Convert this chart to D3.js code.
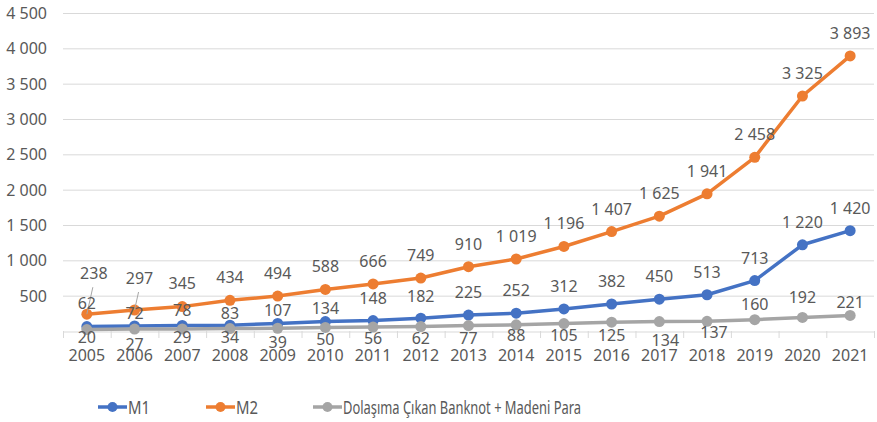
<!DOCTYPE html>
<html lang="tr">
<head>
<meta charset="UTF-8">
<title>M1 M2</title>
<script src="https://d3js.org/d3.v7.min.js"></script>
<style>
body,html{margin:0;padding:0;background:#fff;}
text{font-family:"Noto Sans",sans-serif;fill:#595959;}
</style>
</head>
<body>
<svg width="877" height="422"></svg>
<script>
const years = ["2005","2006","2007","2008","2009","2010","2011","2012","2013","2014","2015","2016","2017","2018","2019","2020","2021"];
const m1 = [62,72,78,83,107,134,148,182,225,252,312,382,450,513,713,1220,1420];
const m2 = [238,297,345,434,494,588,666,749,910,1019,1196,1407,1625,1941,2458,3325,3893];
const dolasim = [20,27,29,34,39,50,56,62,77,88,105,125,134,137,160,192,221];
const yTicks = [500,1000,1500,2000,2500,3000,3500,4000,4500];
const seriesNames = ["M1","M2","Dolaşıma Çıkan Banknot + Madeni Para"];

// label placement (px offsets from the point), like excel's arrangement
const m1LabelDy = [-24,-13,-15,-12,-13,-14,-23,-22,-23,-23,-23,-23,-23,-23,-23,-23,-23];
const m2LabelDy = [-41,-32,-24,-23,-23,-23,-23,-23,-23,-23,-23,-23,-23,-23,-23,-23,-23];
const m2LabelDx = [7,5,0,0,0,0,0,0,0,0,0,0,0,0,0,0,0];
const grLabelDy = [7,15,8,8,14,12,11,11,12,10,11,13,18,11,-16,-20,-13];
const grLabelDx = [0,0,0,0,0,0,0,0,0,0,0,0,6,7,0,0,0];

const svg = d3.select("svg");
const x = d3.scaleBand().domain(years).range([63,874]);
const y = d3.scaleLinear().domain([0,4500]).range([331,13]);
const cx = d => x(d) + x.bandwidth()/2;
const fmt = v => d3.format(",")(v).replace(/,/g," ");

// grid
svg.append("g").selectAll("line").data(yTicks).join("line")
  .attr("x1",63).attr("x2",874)
  .attr("y1",d=>y(d)+0.5).attr("y2",d=>y(d)+0.5)
  .attr("stroke","#d9d9d9").attr("stroke-width",1);

svg.append("g").selectAll("text").data(yTicks).join("text")
  .attr("x",47).attr("y",d=>y(d)).attr("text-anchor","end")
  .attr("dominant-baseline","central").attr("font-size",16)
  .text(fmt);

// x axis
const xAxis = d3.axisBottom(x).tickSize(0).tickPadding(18);
const xg = svg.append("g").attr("transform","translate(0,331.5)").call(xAxis);
xg.select(".domain").attr("stroke","#d9d9d9");
xg.selectAll(".tick text").attr("font-size",16).attr("font-family","Noto Sans").attr("fill","#595959");
svg.append("g").selectAll("line").data(years.concat(["end"])).join("line")
  .attr("x1",(d,i)=>63+i*x.step()+0.5).attr("x2",(d,i)=>63+i*x.step()+0.5)
  .attr("y1",331).attr("y2",338).attr("stroke","#d9d9d9");

const series = [
  {name:seriesNames[0], values:m1, color:"#4472c4"},
  {name:seriesNames[1], values:m2, color:"#ed7d31"},
  {name:seriesNames[2], values:dolasim, color:"#a5a5a5"}
];

const line = d3.line().x((d,i)=>cx(years[i])).y(d=>y(d));
series.forEach(s=>{
  const g = svg.append("g");
  g.append("path").attr("d",line(s.values)).attr("fill","none")
    .attr("stroke",s.color).attr("stroke-width",3.5).attr("stroke-linejoin","round");
  g.selectAll("circle").data(s.values).join("circle")
    .attr("cx",(d,i)=>cx(years[i])).attr("cy",d=>y(d)).attr("r",5.5)
    .attr("fill",s.color);
});

// leader lines for the first two m2 labels
[0,1].forEach(i=>{
  const px = cx(years[i]), py = y(m2[i]);
  svg.append("line")
    .attr("x1",px+m2LabelDx[i]-1).attr("y1",py+m2LabelDy[i]+14)
    .attr("x2",px).attr("y2",py)
    .attr("stroke","#a6a6a6").attr("stroke-width",1);
});

function labels(values, dy, dx){
  svg.append("g").selectAll("text").data(values).join("text")
    .attr("x",(d,i)=>cx(years[i])+(dx?dx[i]:0))
    .attr("y",(d,i)=>y(d)+dy[i])
    .attr("text-anchor","middle").attr("dominant-baseline","central")
    .attr("font-size",16).text(fmt);
}
labels(m2, m2LabelDy, m2LabelDx);
labels(m1, m1LabelDy);
labels(dolasim, grLabelDy, grLabelDx);

// legend
const legendX = [98,206,313];
const leg = svg.append("g").selectAll("g").data(series).join("g")
  .attr("transform",(d,i)=>`translate(${legendX[i]},407)`);
leg.append("line").attr("x1",0).attr("x2",29).attr("stroke",d=>d.color).attr("stroke-width",3.5);
leg.append("circle").attr("cx",14.5).attr("r",5).attr("fill",d=>d.color);
leg.append("text").attr("x",30).attr("dominant-baseline","central").attr("font-size",18)
  .text(d=>d.name)
  .each(function(d,i){
    if(i==2) d3.select(this).attr("textLength",238).attr("lengthAdjust","spacingAndGlyphs");
    else d3.select(this).attr("textLength",22).attr("lengthAdjust","spacingAndGlyphs");
  });
</script>
</body>
</html>
